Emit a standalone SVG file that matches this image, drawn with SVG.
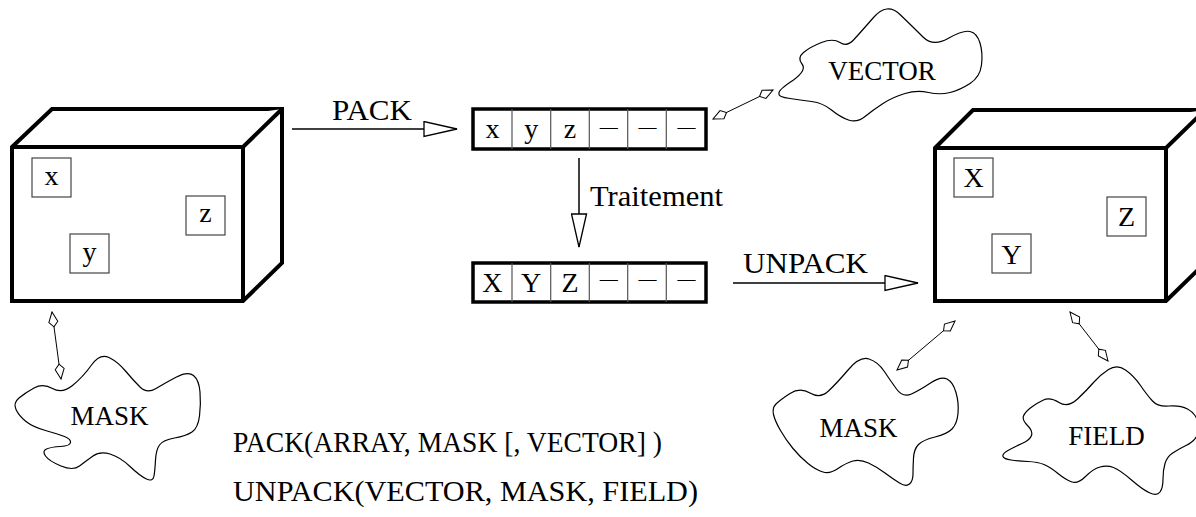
<svg xmlns="http://www.w3.org/2000/svg" width="1196" height="517" viewBox="0 0 1196 517">
<style>
text{font-family:"Liberation Serif","Times New Roman",serif;fill:#000}
.lbl{font-size:28.5px}
.cl{font-size:27px;text-anchor:middle}
.cell{font-size:28px;text-anchor:middle}
.dash{font-size:18px;text-anchor:middle}
.cube{fill:#fff;stroke:#000;stroke-width:4;stroke-linejoin:miter}
.sbox{fill:#fff;stroke:#444;stroke-width:1.2}
.arr{fill:#fff;stroke:#000;stroke-width:3.5}
.div{stroke:#555;stroke-width:1.2}
.cloud{fill:#fff;stroke:#000;stroke-width:1.2}
.con{fill:none;stroke:#000;stroke-width:1.5}
.dbl{fill:none;stroke:#000;stroke-width:1;marker-start:url(#kite);marker-end:url(#kite)}
</style>
<defs>
<marker id="tri" markerUnits="userSpaceOnUse" markerWidth="36" markerHeight="17" refX="34" refY="8.5" orient="auto" viewBox="0 0 36 17"><path d="M1,1 L34,8.5 L1,16 Z" fill="#fff" stroke="#000" stroke-width="1.3"/></marker>
<marker id="kite" markerUnits="userSpaceOnUse" markerWidth="17" markerHeight="11" refX="16" refY="5.5" orient="auto-start-reverse" viewBox="0 0 17 11"><path d="M16,5.5 L6,1 L1,5.5 L6,10 Z" fill="#fff" stroke="#000" stroke-width="1"/></marker>
</defs>
<rect width="1196" height="517" fill="#fff"/>

<g id="connectors">
<line class="con" x1="292" y1="129" x2="457" y2="129" marker-end="url(#tri)"/>
<line class="con" x1="579" y1="158" x2="579" y2="247" marker-end="url(#tri)"/>
<line class="con" x1="733" y1="283" x2="918" y2="283" marker-end="url(#tri)"/>
<line class="dbl" x1="713" y1="119" x2="773" y2="90"/>
<line class="dbl" x1="52" y1="312" x2="61" y2="379"/>
<line class="dbl" x1="897" y1="370" x2="955" y2="321"/>
<line class="dbl" x1="1070" y1="312" x2="1108" y2="361"/>
</g>

<g id="array-box">
<path class="cube" d="M12,147 L52,109 L282,109 L282,263 L243,301 L12,301 Z"/>
<path class="cube" d="M12,147 L243,147 L282,109 M243,147 L243,301"/>
<rect class="sbox" x="32" y="158" width="39" height="39"/>
<text class="cell" x="51.5" y="185">x</text>
<rect class="sbox" x="70" y="234" width="39" height="39"/>
<text class="cell" x="89.5" y="261">y</text>
<rect class="sbox" x="186" y="196" width="39" height="39"/>
<text class="cell" x="205.5" y="222">z</text>
</g>

<g id="field-box">
<path class="cube" d="M935,148 L973,110 L1205,110 L1205,263 L1166,301 L935,301 Z"/>
<path class="cube" d="M935,148 L1166,148 L1205,110 M1166,148 L1166,301"/>
<rect class="sbox" x="954" y="158" width="39" height="39"/>
<text class="cell" x="973.5" y="187">X</text>
<rect class="sbox" x="992" y="234" width="39" height="39"/>
<text class="cell" x="1011.5" y="264">Y</text>
<rect class="sbox" x="1107" y="197" width="39" height="39"/>
<text class="cell" x="1126.5" y="226">Z</text>
</g>

<g id="vector-packed">
<rect class="arr" x="473" y="109" width="233" height="40"/>
<path class="div" d="M512,109V149M550.7,109V149M589.3,109V149M627.7,109V149M666.3,109V149"/>
<text class="cell" x="492.4" y="138">x</text>
<text class="cell" x="531.2" y="138">y</text>
<text class="cell" x="570" y="138">z</text>
<text class="dash" x="608.8" y="133">—</text>
<text class="dash" x="647.6" y="133">—</text>
<text class="dash" x="686.4" y="133">—</text>
</g>

<g id="vector-processed">
<rect class="arr" x="473" y="263" width="233" height="39"/>
<path class="div" d="M512,263V302M550.7,263V302M589.3,263V302M627.7,263V302M666.3,263V302"/>
<text class="cell" x="492.4" y="292">X</text>
<text class="cell" x="531.2" y="292">Y</text>
<text class="cell" x="570" y="292">Z</text>
<text class="dash" x="608.8" y="285">—</text>
<text class="dash" x="647.6" y="285">—</text>
<text class="dash" x="686.4" y="285">—</text>
</g>

<g id="labels">
<text class="lbl" x="332" y="120" textLength="80" lengthAdjust="spacingAndGlyphs">PACK</text>
<text class="lbl" x="590" y="206" textLength="133" lengthAdjust="spacingAndGlyphs">Traitement</text>
<text class="lbl" x="743" y="273" textLength="125" lengthAdjust="spacingAndGlyphs">UNPACK</text>
<text class="lbl" x="233" y="452" textLength="429" lengthAdjust="spacingAndGlyphs">PACK(ARRAY, MASK [, VECTOR] )</text>
<text class="lbl" x="233" y="501" textLength="465" lengthAdjust="spacingAndGlyphs">UNPACK(VECTOR, MASK, FIELD)</text>
</g>

<g id="vector-cloud">
<path class="cloud" d="M779,93.5 Q778,90 793.5,80 Q807,70 802,64 Q797,58 803.5,52.5 Q810,47 821.5,42.5 Q833,38 840,42.5 Q847,47 853.5,40 Q860,33 873.5,17.5 Q887,2 900,14.5 Q913,27 923,37 Q933,47 948,38.5 Q963,30 970,31.5 Q977,33 980,43 Q983,53 981.5,65 Q980,77 970,83.5 Q960,90 950,92.5 Q940,95 928.5,92.5 Q917,90 905,93.5 Q893,97 883,103.5 Q873,110 865,116.5 Q857,123 848.5,120 Q840,117 831.5,110 Q823,103 811.5,101.5 Q800,100 790,98.5 Q778,97 779,93.5 Z"/>
<text class="cl" x="882" y="80">VECTOR</text>
</g>

<g id="mask-cloud-left">
<path class="cloud" d="M16,409.5 Q13,403 19,398 Q25,393 34,388 Q43,383 52.5,388.5 Q62,394 72.5,385.5 Q83,377 91.5,365 Q100,353 109,357.5 Q118,362 125.5,371 Q133,380 140,387 Q147,394 156,388.5 Q165,383 176.5,377 Q188,371 193.5,375.5 Q199,380 200,392 Q201,404 199.5,416 Q198,428 192,432 Q186,436 174.5,438 Q163,440 159.5,445 Q156,450 155.5,460 Q155,470 154,476 Q153,482 146.5,479 Q140,476 130,466.5 Q120,457 110,454 Q100,451 93,456 Q86,461 79.5,466 Q73,471 61,466 Q49,461 45.5,456 Q42,451 46.5,449 Q51,447 60.5,446.5 Q70,446 70.5,442.5 Q71,439 64.5,436.5 Q58,434 45.5,430.5 Q33,427 26,421.5 Q19,416 16,409.5 Z"/>
<text class="cl" x="109.5" y="425">MASK</text>
</g>

<g id="mask-cloud-right">
<path class="cloud" d="M773.5,414.5 Q772,408 776,404 Q780,400 790,393.5 Q800,387 810,393 Q820,399 828.5,391 Q837,383 848.5,369.5 Q860,356 869,359 Q878,362 884,371 Q890,380 896.5,389 Q903,398 911.5,394 Q920,390 930.5,383 Q941,376 947,379 Q953,382 956,392.5 Q959,403 958,413.5 Q957,424 952,429 Q947,434 935,437 Q923,440 918.5,444.5 Q914,449 913.5,458 Q913,467 913,474 Q913,481 909.5,484 Q906,487 899.5,483 Q893,479 885,473 Q877,467 868.5,463 Q860,459 853,461 Q846,463 838,468.5 Q830,474 823,472 Q816,470 808,463.5 Q800,457 793,448.5 Q786,440 780.5,430.5 Q775,421 773.5,414.5 Z"/>
<text class="cl" x="858.5" y="437">MASK</text>
</g>

<g id="field-cloud">
<path class="cloud" d="M1003,456.5 Q1002,454 1008,450.5 Q1014,447 1022,443.5 Q1030,440 1031.5,435.5 Q1033,431 1027.5,425.5 Q1022,420 1023.5,416 Q1025,412 1031,407.5 Q1037,403 1043.5,400 Q1050,397 1059,402.5 Q1068,408 1077.5,399 Q1087,390 1093.5,382.5 Q1100,375 1108.5,369.5 Q1117,364 1125.5,370 Q1134,376 1140.5,385.5 Q1147,395 1152.5,401 Q1158,407 1169,406 Q1180,405 1187.5,409 Q1195,413 1197.5,420.5 Q1200,428 1197.5,434.5 Q1195,441 1186,445.5 Q1177,450 1172,453.5 Q1167,457 1165,463.5 Q1163,470 1163,479 Q1163,488 1160,492 Q1157,496 1150,493 Q1143,490 1131.5,480 Q1120,470 1113.5,467.5 Q1107,465 1100,467 Q1093,469 1085.5,476.5 Q1078,484 1072,482 Q1066,480 1058,473.5 Q1050,467 1044,464.5 Q1038,462 1028,461.5 Q1018,461 1011,460 Q1004,459 1003,456.5 Z"/>
<text class="cl" x="1106.5" y="445">FIELD</text>
</g>
</svg>
